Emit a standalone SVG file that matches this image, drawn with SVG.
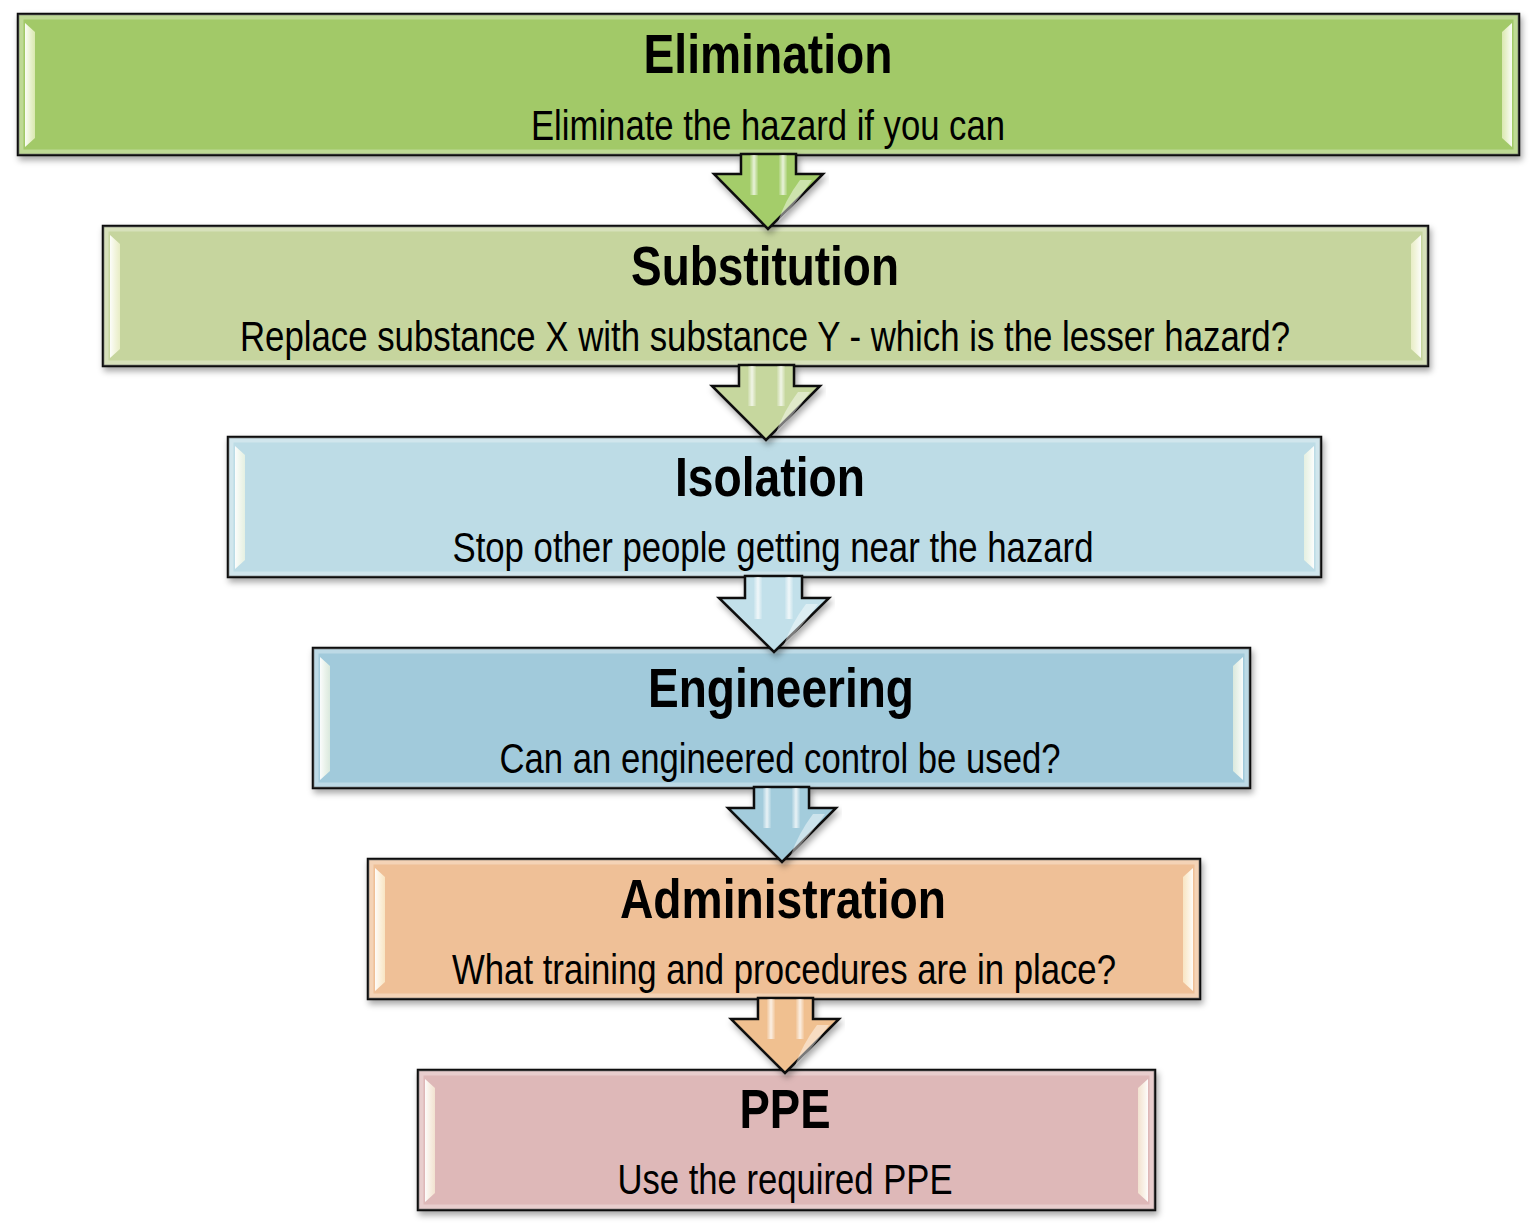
<svg xmlns="http://www.w3.org/2000/svg" width="1536" height="1229" viewBox="0 0 1536 1229">
<defs>
<filter id="sh" x="-5%" y="-20%" width="110%" height="140%">
<feDropShadow dx="2" dy="4" stdDeviation="3" flood-color="#000" flood-opacity="0.35"/>
</filter>
<linearGradient id="bevL" x1="0" y1="0" x2="1" y2="0">
<stop offset="0" stop-color="#ffffff" stop-opacity="0.95"/>
<stop offset="1" stop-color="#fffde0" stop-opacity="0.6"/>
</linearGradient>
<linearGradient id="bevR" x1="1" y1="0" x2="0" y2="0">
<stop offset="0" stop-color="#ffffff" stop-opacity="0.95"/>
<stop offset="1" stop-color="#fffde0" stop-opacity="0.6"/>
</linearGradient>
<linearGradient id="hl" x1="0" y1="0" x2="1" y2="0">
<stop offset="0" stop-color="#fff" stop-opacity="0.1"/>
<stop offset="0.5" stop-color="#fff" stop-opacity="0.75"/>
<stop offset="1" stop-color="#fff" stop-opacity="0.1"/>
</linearGradient>
</defs>
<style>
.box{stroke:#111;stroke-width:2.5;filter:url(#sh)}
.inner{fill:none;stroke:#fff;stroke-opacity:0.3;stroke-width:5}
.title{font-family:"Liberation Sans Narrow","Liberation Sans",Arial,sans-serif;font-weight:bold;font-size:56px;fill:#000;text-anchor:middle}
.sub{font-family:"Liberation Sans Narrow","Liberation Sans",Arial,sans-serif;font-size:42px;fill:#000;text-anchor:middle}
.arr{stroke:#111;stroke-width:2.5;stroke-linejoin:miter;filter:url(#sh)}
.strip{fill:url(#hl)}
.hh{fill:#fff;fill-opacity:0.45}
</style>

<g id="node-elimination">
<rect class="box" x="18" y="14" width="1501" height="141" fill="#A2C968"/>
<rect class="inner" x="21" y="17" width="1495" height="135"/>
<polygon points="25,23 35,32 35,138 25,147" fill="url(#bevL)"/>
<polygon points="1512,23 1502,32 1502,138 1512,147" fill="url(#bevR)"/>
<text class="title" x="768" y="73" textLength="249" lengthAdjust="spacingAndGlyphs">Elimination</text>
<text class="sub" x="768" y="140" textLength="474" lengthAdjust="spacingAndGlyphs">Eliminate the hazard if you can</text>
</g>

<g id="node-substitution">
<rect class="box" x="103" y="226" width="1325" height="140" fill="#C6D59E"/>
<rect class="inner" x="106" y="229" width="1319" height="134"/>
<polygon points="110,235 120,244 120,349 110,358" fill="url(#bevL)"/>
<polygon points="1421,235 1411,244 1411,349 1421,358" fill="url(#bevR)"/>
<text class="title" x="765" y="285" textLength="268" lengthAdjust="spacingAndGlyphs">Substitution</text>
<text class="sub" x="765" y="351" textLength="1050" lengthAdjust="spacingAndGlyphs">Replace substance X with substance Y - which is the lesser hazard?</text>
</g>

<g id="node-isolation">
<rect class="box" x="228" y="437" width="1093" height="140" fill="#BDDCE6"/>
<rect class="inner" x="231" y="440" width="1087" height="134"/>
<polygon points="235,446 245,455 245,560 235,569" fill="url(#bevL)"/>
<polygon points="1314,446 1304,455 1304,560 1314,569" fill="url(#bevR)"/>
<text class="title" x="770" y="496" textLength="190" lengthAdjust="spacingAndGlyphs">Isolation</text>
<text class="sub" x="773" y="562" textLength="641" lengthAdjust="spacingAndGlyphs">Stop other people getting near the hazard</text>
</g>

<g id="node-engineering">
<rect class="box" x="313" y="648" width="937" height="140" fill="#A1CADB"/>
<rect class="inner" x="316" y="651" width="931" height="134"/>
<polygon points="320,657 330,666 330,771 320,780" fill="url(#bevL)"/>
<polygon points="1243,657 1233,666 1233,771 1243,780" fill="url(#bevR)"/>
<text class="title" x="781" y="707" textLength="266" lengthAdjust="spacingAndGlyphs">Engineering</text>
<text class="sub" x="780" y="773" textLength="561" lengthAdjust="spacingAndGlyphs">Can an engineered control be used?</text>
</g>

<g id="node-administration">
<rect class="box" x="368" y="859" width="832" height="140" fill="#EFC097"/>
<rect class="inner" x="371" y="862" width="826" height="134"/>
<polygon points="375,868 385,877 385,982 375,991" fill="url(#bevL)"/>
<polygon points="1193,868 1183,877 1183,982 1193,991" fill="url(#bevR)"/>
<text class="title" x="783" y="918" textLength="326" lengthAdjust="spacingAndGlyphs">Administration</text>
<text class="sub" x="784" y="984" textLength="664" lengthAdjust="spacingAndGlyphs">What training and procedures are in place?</text>
</g>

<g id="node-ppe">
<rect class="box" x="418" y="1070" width="737" height="140" fill="#DEB8B8"/>
<rect class="inner" x="421" y="1073" width="731" height="134"/>
<polygon points="425,1079 435,1088 435,1193 425,1202" fill="url(#bevL)"/>
<polygon points="1148,1079 1138,1088 1138,1193 1148,1202" fill="url(#bevR)"/>
<text class="title" x="785" y="1128" textLength="91" lengthAdjust="spacingAndGlyphs">PPE</text>
<text class="sub" x="785" y="1194" textLength="335" lengthAdjust="spacingAndGlyphs">Use the required PPE</text>
</g>

<g id="connectors">
<g id="arrow-1">
<path class="arr" fill="#A4CD6A" d="M741,154 L741,174 L714,174 L768,229 L823,174 L796,174 L796,154 Z"/>
<rect class="strip" x="750" y="155" width="8" height="40"/>
<rect class="strip" x="779" y="155" width="8" height="40"/>
<path class="hh" d="M800,180 L812,180 Q795,205 778,222 Q785,200 800,180 Z"/>
</g>
<g id="arrow-2">
<path class="arr" fill="#C6D79E" d="M739,365 L739,386 L712,386 L766,440 L820,386 L794,386 L794,365 Z"/>
<rect class="strip" x="748" y="366" width="8" height="40"/>
<rect class="strip" x="777" y="366" width="8" height="40"/>
<path class="hh" d="M798,392 L810,392 Q793,416 776,433 Q783,412 798,392 Z"/>
</g>
<g id="arrow-3">
<path class="arr" fill="#C2E0EA" d="M745,576 L745,598 L719,598 L774,652 L829,598 L802,598 L802,576 Z"/>
<rect class="strip" x="754" y="577" width="8" height="42"/>
<rect class="strip" x="785" y="577" width="8" height="42"/>
<path class="hh" d="M806,604 L818,604 Q801,628 784,645 Q791,624 806,604 Z"/>
</g>
<g id="arrow-4">
<path class="arr" fill="#A3CCDC" d="M754,787 L754,808 L728,808 L782,862 L836,808 L809,808 L809,787 Z"/>
<rect class="strip" x="763" y="788" width="8" height="40"/>
<rect class="strip" x="792" y="788" width="8" height="40"/>
<path class="hh" d="M813,814 L825,814 Q808,838 791,855 Q798,834 813,814 Z"/>
</g>
<g id="arrow-5">
<path class="arr" fill="#F0C090" d="M758,998 L758,1019 L731,1019 L785,1073 L839,1019 L813,1019 L813,998 Z"/>
<rect class="strip" x="767" y="999" width="8" height="40"/>
<rect class="strip" x="796" y="999" width="8" height="40"/>
<path class="hh" d="M817,1025 L829,1025 Q812,1049 795,1066 Q802,1045 817,1025 Z"/>
</g>
</g>
</svg>
